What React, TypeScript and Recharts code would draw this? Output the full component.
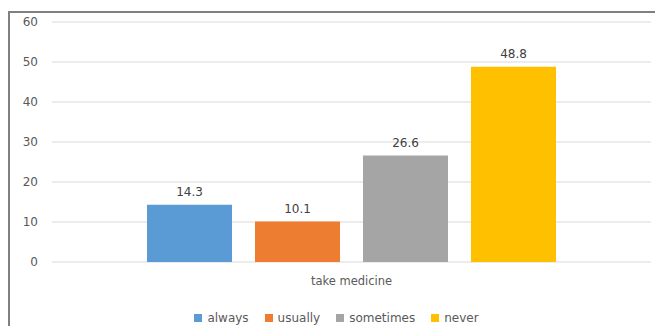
import React from "react";
import { BarChart, Bar, XAxis, YAxis, CartesianGrid, LabelList } from "recharts";

// Share of respondents by how often they take medicine (%)
const categories = ["take medicine"];
const seriesNames = ["always", "usually", "sometimes", "never"];
const seriesValues = [14.3, 10.1, 26.6, 48.8];
const seriesColors = ["#5B9BD5", "#ED7D31", "#A5A5A5", "#FFC000"];
const yTicks = [0, 10, 20, 30, 40, 50, 60];

const data = categories.map((name) => {
  const row: Record<string, string | number> = { name };
  seriesNames.forEach((s, i) => {
    row[s] = seriesValues[i];
  });
  return row;
});

const FONT = "'DejaVu Sans', Verdana, sans-serif";
const TEXT = "#595959";

function SeriesLegend() {
  return (
    <div
      style={{
        position: "absolute",
        left: 0,
        width: 655,
        top: 310,
        display: "flex",
        justifyContent: "center",
        fontFamily: FONT,
        fontSize: 12,
        lineHeight: "16px",
        color: TEXT,
        paddingLeft: 18,
        boxSizing: "border-box",
      }}
    >
      {seriesNames.map((s, i) => (
        <div key={s} style={{ display: "flex", alignItems: "center", marginRight: i < seriesNames.length - 1 ? 16 : 0 }}>
          <span style={{ display: "inline-block", width: 8, height: 8, background: seriesColors[i], marginRight: 5 }} />
          <span>{s}</span>
        </div>
      ))}
    </div>
  );
}

export default function App() {
  return (
    <div style={{ position: "absolute", left: 0, top: 0, width: 655, height: 326, background: "#fff", overflow: "hidden" }}>
      <div
        style={{
          position: "absolute",
          left: 8,
          top: 11,
          width: 700,
          height: 400,
          borderLeft: "2px solid #808080",
          borderTop: "2px solid #808080",
        }}
      />
      <BarChart
        width={655}
        height={326}
        data={data}
        margin={{ top: 22, right: 4, bottom: 34, left: 0 }}
        barGap={23}
        style={{ position: "absolute", left: 0, top: 0 }}
      >
        <CartesianGrid vertical={false} stroke="#D9D9D9" />
        <XAxis
          dataKey="name"
          height={30}
          axisLine={false}
          tickLine={false}
          tickSize={0}
          tickMargin={15}
          tick={{ fill: TEXT, fontSize: 11.5, fontFamily: FONT }}
        />
        <YAxis
          width={52}
          domain={[0, 60]}
          ticks={yTicks}
          axisLine={false}
          tickLine={false}
          tickSize={0}
          tickMargin={14}
          tick={{ fill: TEXT, fontSize: 12, fontFamily: FONT }}
        />
        {seriesNames.map((s, i) => (
          <Bar key={s} dataKey={s} name={s} fill={seriesColors[i]} barSize={85} isAnimationActive={false}>
            <LabelList dataKey={s} position="top" offset={9} fill="#404040" fontSize={12} fontFamily={FONT} />
          </Bar>
        ))}
      </BarChart>
      <SeriesLegend />
    </div>
  );
}
